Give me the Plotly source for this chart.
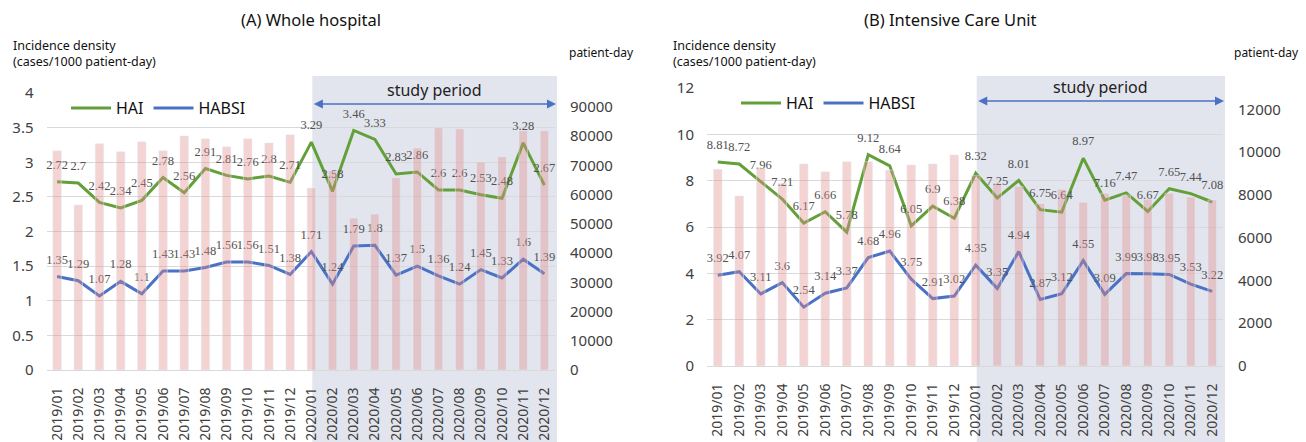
import plotly.graph_objects as go

months = ["2019/01","2019/02","2019/03","2019/04","2019/05","2019/06","2019/07","2019/08",
          "2019/09","2019/10","2019/11","2019/12","2020/01","2020/02","2020/03","2020/04",
          "2020/05","2020/06","2020/07","2020/08","2020/09","2020/10","2020/11","2020/12"]

# (A) Whole hospital
a_hai = [2.72, 2.7, 2.42, 2.34, 2.45, 2.78, 2.56, 2.91, 2.81, 2.76, 2.8, 2.71,
         3.29, 2.58, 3.46, 3.33, 2.83, 2.86, 2.6, 2.6, 2.53, 2.48, 3.28, 2.67]
a_habsi = [1.35, 1.29, 1.07, 1.28, 1.1, 1.43, 1.43, 1.48, 1.56, 1.56, 1.51, 1.38,
           1.71, 1.24, 1.79, 1.8, 1.37, 1.5, 1.36, 1.24, 1.45, 1.33, 1.6, 1.39]
a_pdays = [75000, 56500, 77400, 74700, 78100, 75000, 80100, 79100, 76400, 79100, 77700, 80500,
           62300, 68200, 52000, 53400, 65800, 76000, 82900, 82600, 71200, 73000, 81900, 81900]

# (B) Intensive Care Unit
b_hai = [8.81, 8.72, 7.96, 7.21, 6.17, 6.66, 5.78, 9.12, 8.64, 6.05, 6.9, 6.38,
         8.32, 7.25, 8.01, 6.75, 6.64, 8.97, 7.16, 7.47, 6.67, 7.65, 7.44, 7.08]
b_habsi = [3.92, 4.07, 3.11, 3.6, 2.54, 3.14, 3.37, 4.68, 4.96, 3.75, 2.91, 3.02,
           4.35, 3.35, 4.94, 2.87, 3.12, 4.55, 3.09, 3.99, 3.98, 3.95, 3.53, 3.22]
b_pdays = [9200, 7950, 9250, 8550, 9450, 9080, 9550, 9550, 9160, 9400, 9450, 9870,
           8900, 8550, 8400, 7600, 8270, 7660, 8080, 7990, 7800, 8080, 7900, 7760]

W, H = 1306, 442
GREEN = "#64a03a"
BLUE = "#4a72c4"
BAR = "rgba(226,140,140,0.38)"
SHADE = "rgba(198,204,222,0.5)"
GRID = "#d9d9d9"
TXT = "#404040"
SANS = "Noto Sans, Open Sans, sans-serif"
SERIF = "Liberation Serif, Times New Roman, serif"

# pixel geometry of the two plot areas
A_px = (46.5, 555.0)
B_px = (707.0, 1223.0)
A_py = (93.0, 370.0)
B_py = (88.0, 366.0)

def px2x(p):
    return p / W

def py2y(p):
    return (H - p) / H

def cat_px(area, idx):
    step = (area[1] - area[0]) / len(months)
    return area[0] + (idx + 0.5) * step

fig = go.Figure()

label_font = dict(family=SERIF, size=12.5, color="#505050")

for (bars, hai, habsi, xa, yl, yr, leg) in [
    (a_pdays, a_hai, a_habsi, "x", "y", "y2", "legend"),
    (b_pdays, b_hai, b_habsi, "x2", "y3", "y4", "legend2"),
]:
    fig.add_trace(go.Bar(x=months, y=bars, xaxis=xa, yaxis=yr, marker_color=BAR,
                         width=0.4, showlegend=False, hoverinfo="skip"))
    for name, vals, col in [("HAI", hai, GREEN), ("HABSI", habsi, BLUE)]:
        fig.add_trace(go.Scatter(x=months, y=vals, xaxis=xa, yaxis=yl, mode="lines",
                                 name=name, legend=leg, line=dict(color=col, width=3)))
        # data labels
        fig.add_trace(go.Scatter(x=months, y=vals, xaxis=xa, yaxis=yl,
                                 mode="markers+text", showlegend=False,
                                 marker=dict(size=14, color="rgba(0,0,0,0)"),
                                 text=[f"{v:g}" for v in vals], textposition="top center",
                                 textfont=label_font, cliponaxis=False, hoverinfo="skip"))

tickfont = dict(family=SANS, size=15, color=TXT)
xtickfont = dict(family=SANS, size=14, color=TXT)

def xaxis(dom):
    return dict(domain=dom, range=[-0.5, len(months) - 0.5], tickangle=-90,
                tickfont=xtickfont, showgrid=False,
                showline=True, linecolor=GRID, linewidth=1, ticks="",
                ticklabelstandoff=11, automargin=False, fixedrange=True)

def yleft(dom, rng, dt, anchor):
    return dict(domain=dom, range=rng, dtick=dt, anchor=anchor, tickfont=tickfont,
                showgrid=True, gridcolor=GRID, gridwidth=1, zeroline=False,
                ticks="", ticklabelstandoff=12, automargin=False, showline=False)

def yright(overlay, rng, dt, anchor):
    return dict(overlaying=overlay, side="right", range=rng, dtick=dt, anchor=anchor,
                tickfont=tickfont, tickformat="d", showgrid=False, zeroline=False,
                ticks="", ticklabelstandoff=14, automargin=False, showline=False)

A_dom_x = [px2x(A_px[0]), px2x(A_px[1])]
B_dom_x = [px2x(B_px[0]), px2x(B_px[1])]
A_dom_y = [py2y(A_py[1]), py2y(A_py[0])]
B_dom_y = [py2y(B_py[1]), py2y(B_py[0])]

study_idx = months.index("2020/01")

shapes = []
annotations = []
for area, title, title_x, arrow_y, sp_y, pd_gap in [
    (A_px, "(A) Whole hospital", 311, 104, 90, 12),
    (B_px, "(B) Intensive Care Unit", 950, 101, 87, 9),
]:
    x0 = cat_px(area, study_idx) + 1
    x1 = area[1] + 2
    shapes.append(dict(type="rect", xref="paper", yref="paper",
                       x0=px2x(x0), x1=px2x(x1), y0=0, y1=py2y(76),
                       fillcolor=SHADE, line_width=0, layer="below"))
    annotations.append(dict(xref="paper", yref="paper", x=px2x(x1 - 1), y=py2y(arrow_y),
                            ax=-(x1 - 1 - x0), ay=0, axref="pixel", ayref="pixel",
                            text="", showarrow=True, arrowhead=2, arrowside="end+start",
                            arrowsize=1.2, arrowwidth=1.5, arrowcolor=BLUE))
    annotations.append(dict(xref="paper", yref="paper", x=px2x((x0 + x1) / 2),
                            y=py2y(sp_y), xanchor="center", yanchor="middle",
                            text="study period", showarrow=False,
                            font=dict(family=SANS, size=16, color="#222222")))
    annotations.append(dict(xref="paper", yref="paper", x=px2x(title_x), y=py2y(20),
                            xanchor="center", yanchor="middle",
                            text=title, showarrow=False,
                            font=dict(family=SANS, size=16.5, color="#111111")))
    annotations.append(dict(xref="paper", yref="paper", x=px2x(area[0] - 36),
                            y=py2y(35), yanchor="top", xanchor="left", align="left",
                            text="Incidence density<br>(cases/1000 patient-day)",
                            showarrow=False,
                            font=dict(family=SANS, size=12.5, color="#111111")))
    annotations.append(dict(xref="paper", yref="paper", x=px2x(area[1] + pd_gap),
                            y=py2y(52), xanchor="left", yanchor="middle",
                            text="patient-day", showarrow=False,
                            font=dict(family=SANS, size=12, color="#111111")))

legend_common = dict(orientation="h", bgcolor="rgba(0,0,0,0)", xanchor="left",
                     yanchor="middle", font=dict(family=SANS, size=16, color="#111111"),
                     itemwidth=40, tracegroupgap=0)

fig.update_layout(
    width=W, height=H,
    margin=dict(l=0, r=0, t=0, b=0),
    paper_bgcolor="white",
    plot_bgcolor="rgba(0,0,0,0)",
    barmode="overlay",
    hovermode=False,
    xaxis=xaxis(A_dom_x) | dict(anchor="y"),
    xaxis2=xaxis(B_dom_x) | dict(anchor="y3"),
    yaxis=yleft(A_dom_y, [0, 4], 0.5, "x"),
    yaxis2=yright("y", [0, 94800], 10000, "x"),
    yaxis3=yleft(B_dom_y, [0, 12], 2, "x2"),
    yaxis4=yright("y3", [0, 13000], 2000, "x2"),
    legend=legend_common | dict(x=px2x(66), y=py2y(108)),
    legend2=legend_common | dict(x=px2x(736), y=py2y(103)),
    shapes=shapes,
    annotations=annotations,
)

fig.write_html("out.html", config={"displayModeBar": False},
               post_script="document.body.style.margin='0';document.body.style.overflow='hidden';")
